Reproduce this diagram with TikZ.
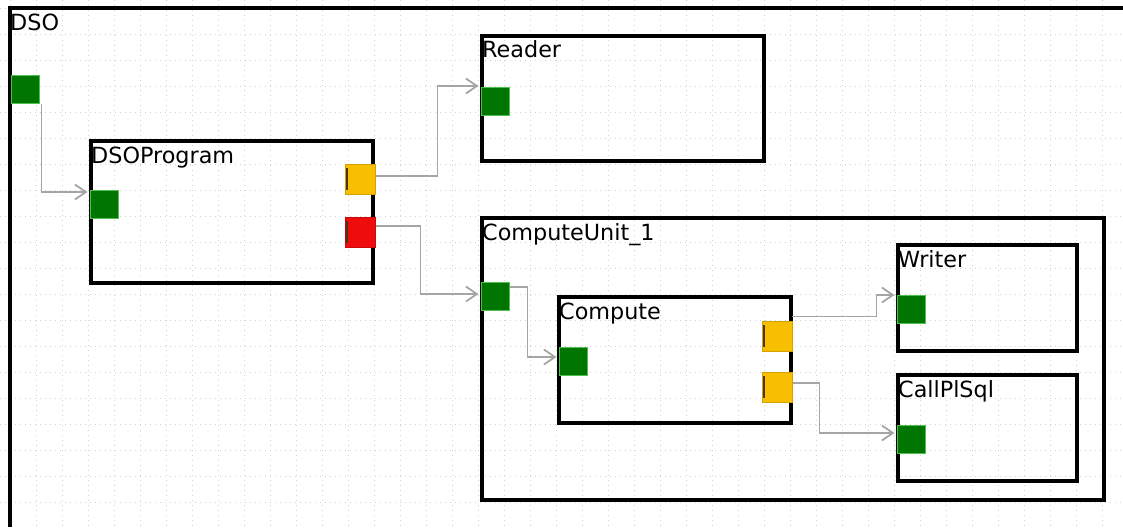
\documentclass[tikz,border=0pt]{standalone}
\usepackage{fontspec}
\setmainfont{DejaVu Sans}
\usetikzlibrary{calc,arrows.meta}

\definecolor{verde}{RGB}{0,118,0}
\definecolor{verdeborde}{RGB}{80,190,80}
\definecolor{ambar}{RGB}{248,190,0}
\definecolor{rojo}{RGB}{238,12,12}
\definecolor{cable}{RGB}{165,165,165}

\tikzset{
  rejilla/.style={gray!35,line width=0.8pt,dash pattern=on 0.8pt off 4.2pt},
  bloque/.style={draw=black,line width=3.6pt,anchor=north west,inner sep=0pt,outer sep=0pt},
  titulo/.style={anchor=base west,inner sep=0pt,font=\fontsize{22.3}{26}\selectfont},
  entrada/.style={fill=verde,draw=verdeborde,line width=1pt,minimum size=28pt,inner sep=0pt},
  salida/.style={fill=#1,draw=#1!85!black,line width=1pt,minimum size=30pt,inner sep=0pt,
    path picture={\draw[black!60!brown,line width=1.6pt]
      ([xshift=2pt,yshift=-4pt]path picture bounding box.north west) --
      ([xshift=2pt,yshift=4pt]path picture bounding box.south west);}},
  cablear/.style={draw=cable,line width=1.8pt,->}
}

\begin{document}
\begin{tikzpicture}[x=1pt,y=-1pt,>={Straight Barb[length=11pt,width=15pt]}]
  \useasboundingbox (0,0) rectangle (1123,527);
  % rejilla de fondo
  \foreach \x in {10,36,...,1123} \draw[rejilla] (\x,0) -- (\x,527);
  \foreach \y in {8,34,...,527} \draw[rejilla] (0,\y) -- (1123,\y);
  % marco DSO
  \draw[line width=3.6pt] (10,527) -- (10,8) -- (1123,8);
  \node[titulo] (dso-t) at (10,31) {DSO};
  % bloques
  \node[bloque,minimum width=282pt,minimum height=142pt] (prog) at (91,141) {};
  \node[bloque,minimum width=282pt,minimum height=125pt] (reader) at (482,36) {};
  \node[bloque,minimum width=622pt,minimum height=282pt] (cu) at (482,218) {};
  \node[bloque,minimum width=232pt,minimum height=126pt] (comp) at (559,297) {};
  \node[bloque,minimum width=179pt,minimum height=106pt] (writer) at (898,245) {};
  \node[bloque,minimum width=179pt,minimum height=106pt] (call) at (898,375) {};
  \node[titulo] (prog-t) at ($(prog.north west)+(0,22)$) {DSOProgram};
  \node[titulo] (reader-t) at ($(reader.north west)+(0,22)$) {Reader};
  \node[titulo] (cu-t) at ($(cu.north west)+(0,22)$) {ComputeUnit\_1};
  \node[titulo] (comp-t) at ($(comp.north west)+(0,22)$) {Compute};
  \node[titulo] (writer-t) at ($(writer.north west)+(0,22)$) {Writer};
  \node[titulo] (call-t) at ($(call.north west)+(0,22)$) {CallPlSql};
  % puertos
  \node[entrada] (dso-in) at (25,89) {};
  \node[entrada] (prog-in) at (104,204) {};
  \node[salida=ambar] (prog-out1) at (360,179) {};
  \node[salida=rojo] (prog-out2) at (360,232) {};
  \node[entrada] (reader-in) at (495,101) {};
  \node[entrada] (cu-in) at (495,296) {};
  \node[entrada] (comp-in) at (573,361) {};
  \node[salida=ambar] (comp-out1) at (777,336) {};
  \node[salida=ambar] (comp-out2) at (777,387) {};
  \node[entrada] (writer-in) at (911,309) {};
  \node[entrada] (call-in) at (911,439) {};
  % conexiones
  \draw[cablear] ($(dso-in.south east)+(2,0)$) |- ($(prog-in.west)+(-2,-12)$);
  \draw[cablear] ($(prog-out1.east)+(0,-3)$) -- ++(62,0) |- ($(reader-in.west)+(-2,-15)$);
  \draw[cablear] ($(prog-out2.east)+(0,-6)$) -- ++(45,0) |- ($(cu-in.west)+(-2,-2)$);
  \draw[cablear] ($(cu-in.east)+(0,-9)$) -- ++(18,0) |- ($(comp-in.west)+(-2,-4)$);
  \draw[cablear] ($(comp-out1.north east)+(-1,-4)$) -- ++(85,0) |- ($(writer-in.west)+(-2,-14)$);
  \draw[cablear] ($(comp-out2.east)+(0,-4)$) -- ++(27,0) |- ($(call-in.west)+(-2,-6)$);
\end{tikzpicture}
\end{document}
